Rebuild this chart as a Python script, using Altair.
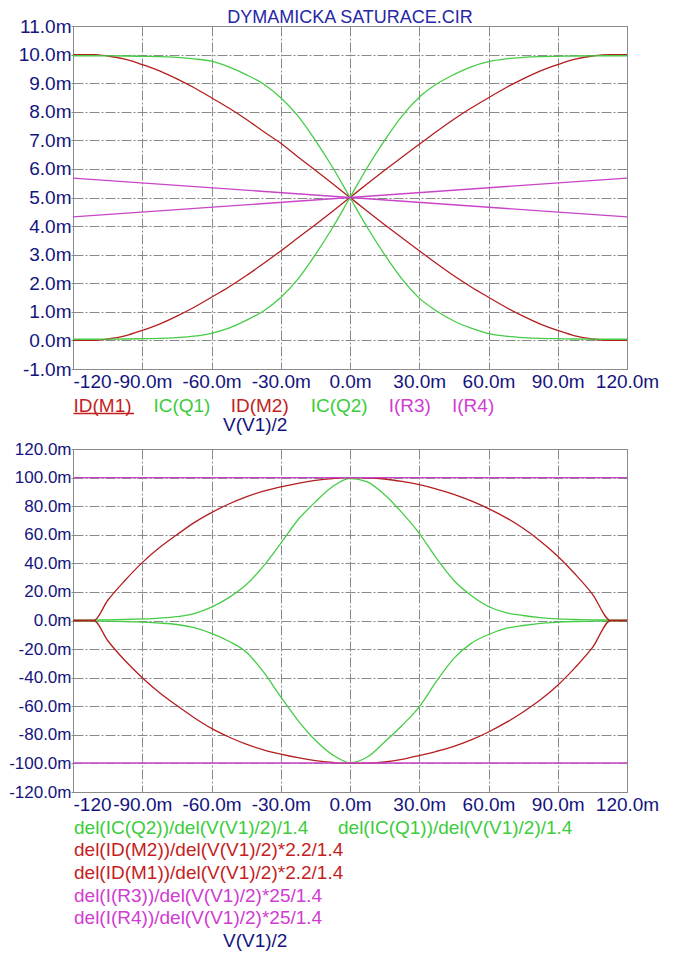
import altair as alt
import pandas as pd

FONT = "Liberation Sans"
NAVY = "#14147e"
TITLE_BLUE = "#2626a6"
RED_LINE = "#b41e1e"
GREEN_LINE = "#46cc46"
MAG_LINE = "#c844c8"
RED_TXT = "#c41e1e"
GREEN_TXT = "#3ccc3c"
MAG_TXT = "#d03cd0"
GRID = "#8a8a8a"

# ---------------- data ----------------
X = [-120, -111, -105, -97.5, -90, -82.5, -75, -67.5, -60, -52.5, -45, -37.5,
     -30, -22.5, -15, -7.5, 0, 7.5, 15, 22.5, 30, 37.5, 45, 52.5, 60, 67.5,
     75, 82.5, 90, 97.5, 105, 113, 120]

# top panel (mA)
ID_M1 = [10.0, 10.0, 9.95, 9.84, 9.65, 9.43, 9.15, 8.84, 8.49, 8.13, 7.74, 7.31,
         6.9, 6.42, 5.95, 5.48, 5.0, 4.52, 4.05, 3.59, 3.14, 2.69, 2.26, 1.87,
         1.51, 1.16, 0.85, 0.57, 0.35, 0.16, 0.05, 0.0, 0.0]
ID_M2 = [0.0, 0.0, 0.05, 0.16, 0.35, 0.57, 0.85, 1.16, 1.51, 1.87, 2.26, 2.69,
         3.13, 3.59, 4.05, 4.52, 5.0, 5.48, 5.95, 6.41, 6.86, 7.31, 7.74, 8.13,
         8.49, 8.84, 9.15, 9.43, 9.65, 9.84, 9.95, 10.0, 10.0]
IC_Q1 = [9.96, 9.96, 9.955, 9.95, 9.94, 9.93, 9.9, 9.85, 9.77, 9.57, 9.3, 8.97,
         8.49, 7.85, 7.0, 6.05, 5.0, 3.95, 3.0, 2.15, 1.48, 1.03, 0.68, 0.43,
         0.24, 0.15, 0.1, 0.07, 0.06, 0.05, 0.045, 0.04, 0.04]
IC_Q2 = [0.04, 0.04, 0.045, 0.05, 0.06, 0.07, 0.1, 0.15, 0.25, 0.43, 0.7, 1.03,
         1.5, 2.15, 3.0, 3.95, 5.0, 6.05, 7.0, 7.85, 8.51, 8.97, 9.3, 9.57,
         9.75, 9.85, 9.9, 9.93, 9.94, 9.95, 9.955, 9.96, 9.96]
X_R = [-120, 120]
I_R3 = [4.32, 5.68]
I_R4 = [5.68, 4.32]

# bottom panel (m)
D_Q2 = [-0.3, -0.4, -0.5, -0.8, -1.2, -1.8, -2.8, -5.0, -9.0, -14.5, -22.0, -36.0,
        -53.4, -70.0, -83.8, -94.0, -99.5, -95.5, -85.0, -73.5, -60.4, -42.5, -26.5, -16.0,
        -9.8, -5.5, -3.5, -2.0, -1.2, -0.7, -0.5, -0.3, -0.3]
D_Q1 = [0.2, 0.3, 0.4, 0.7, 1.1, 1.7, 2.7, 4.8, 9.3, 16.0, 25.0, 38.0,
        54.0, 70.5, 83.0, 93.7, 99.5, 97.0, 88.0, 75.5, 61.0, 43.5, 28.0, 17.5,
        9.8, 5.5, 3.5, 2.0, 1.1, 0.7, 0.4, 0.3, 0.2]
D_M2 = [0.0, 0.0, -14.0, -28.0, -40.0, -50.5, -59.5, -68.0, -75.5, -81.5, -86.5, -90.5,
        -93.5, -96.0, -98.0, -99.3, -100.0, -99.8, -99.0, -97.2, -94.5, -91.5, -88.0, -83.5,
        -78.0, -71.5, -64.0, -55.5, -45.3, -33.0, -19.0, 0.0, 0.0]
D_M1 = [0.0, 0.0, 14.0, 28.0, 40.5, 51.0, 60.0, 68.5, 75.5, 81.5, 86.5, 90.5,
        93.5, 96.0, 98.0, 99.3, 100.0, 99.8, 99.0, 97.3, 95.0, 92.0, 88.3, 83.7,
        78.3, 72.0, 64.5, 55.5, 45.0, 32.5, 18.5, 0.0, 0.0]
D_R3 = [100.0, 100.0]
D_R4 = [-99.7, -99.7]

X_TICKS = [-120, -90, -60, -30, 0, 30, 60, 90, 120]
TOP_Y_TICKS = [-1, 0, 1, 2, 3, 4, 5, 6, 7, 8, 9, 10, 11]
BOT_Y_TICKS = [-120, -100, -80, -60, -40, -20, 0, 20, 40, 60, 80, 100, 120]

TITLE = "DYMAMICKA SATURACE.CIR"
TOP_LEGEND = ["ID(M1)", "IC(Q1)", "ID(M2)", "IC(Q2)", "I(R3)", "I(R4)"]
BOT_LEGEND = [
    "del(IC(Q2))/del(V(V1)/2)/1.4",
    "del(IC(Q1))/del(V(V1)/2)/1.4",
    "del(ID(M2))/del(V(V1)/2)*2.2/1.4",
    "del(ID(M1))/del(V(V1)/2)*2.2/1.4",
    "del(I(R3))/del(V(V1)/2)*25/1.4",
    "del(I(R4))/del(V(V1)/2)*25/1.4",
]
X_TITLE = "V(V1)/2"

W = 554
H = 343

NUM = "(datum.value < 0 ? '-' : '') + format(abs(datum.value), '.1f') + 'm'"


def frame(series):
    rows = []
    for name, (xs, ys) in series:
        for i, (xv, yv) in enumerate(zip(xs, ys)):
            rows.append({"s": name, "x": xv, "y": yv, "i": i})
    return pd.DataFrame(rows)


def x_axis():
    return alt.Axis(
        values=X_TICKS, title=None, grid=True, gridColor=GRID, gridDash=[10, 2, 2, 2],
        gridWidth=1, ticks=False, domain=False, labelFont=FONT, labelFontSize=19,
        labelColor=NAVY, labelPadding=3, labelFlush=False, labelOverlap=False,
        labelBound=False,
        labelExpr="datum.value == -120 ? '-120' : " + NUM,
        labelAlign={"condition": {"test": "datum.value == -120", "value": "left"},
                    "value": "center"},
    )


def y_axis(ticks, size):
    return alt.Axis(
        values=ticks, title=None, grid=True, gridColor=GRID, gridDash=[10, 2, 2, 2],
        gridWidth=1, ticks=True, tickSize=2, tickColor=GRID, domain=False,
        labelFont=FONT, labelFontSize=size, labelColor=NAVY, labelPadding=0,
        labelOverlap=False, labelBound=False, labelExpr=NUM,
    )


def line_layers(series, colors, ydom, yticks, ysize):
    df = frame(series)
    base = alt.Chart(df).encode(
        x=alt.X("x:Q", scale=alt.Scale(domain=[-120, 120], nice=False, zero=False), axis=x_axis()),
        y=alt.Y("y:Q", scale=alt.Scale(domain=ydom, nice=False, zero=False),
                axis=y_axis(yticks, ysize)),
        order="i:Q",
    )
    out = []
    for (name, _), c in zip(series, colors):
        out.append(
            base.transform_filter(alt.datum.s == name).mark_line(
                strokeWidth=1.3, interpolate="monotone", clip=True, color=c)
        )
    return out


def label(text, x, y, color, align="left", size=19):
    return alt.Chart(pd.DataFrame({"t": [text]})).mark_text(
        align=align, baseline="alphabetic", font=FONT, fontSize=size, color=color
    ).encode(text="t:N", x=alt.value(x), y=alt.value(y))


top_series = [
    ("ID(M1)", (X, ID_M1)), ("IC(Q1)", (X, IC_Q1)), ("ID(M2)", (X, ID_M2)),
    ("IC(Q2)", (X, IC_Q2)), ("I(R3)", (X_R, I_R3)), ("I(R4)", (X_R, I_R4)),
]
top_colors = [RED_LINE, GREEN_LINE, RED_LINE, GREEN_LINE, MAG_LINE, MAG_LINE]

bot_series = [
    ("DQ2", (X, D_Q2)), ("DQ1", (X, D_Q1)), ("DM2", (X, D_M2)), ("DM1", (X, D_M1)),
    ("DR3", (X_R, D_R3)), ("DR4", (X_R, D_R4)),
]
bot_colors = [GREEN_LINE, GREEN_LINE, RED_LINE, RED_LINE, MAG_LINE, MAG_LINE]

top_leg_colors = [RED_TXT, GREEN_TXT, RED_TXT, GREEN_TXT, MAG_TXT, MAG_TXT]
top_leg_x = [0.5, 80.4, 157.7, 237.7, 315.7, 379.0]

top_layers = line_layers(top_series, top_colors, [-1, 11], TOP_Y_TICKS, 19)
top_layers.append(label(TITLE, W / 2, -3.4, TITLE_BLUE, align="center", size=18))
for t, c, xp in zip(TOP_LEGEND, top_leg_colors, top_leg_x):
    top_layers.append(label(t, xp, 385.5, c))
top_layers.append(
    alt.Chart(pd.DataFrame({"a": [0]})).mark_rule(color=RED_TXT, strokeWidth=1.3).encode(
        x=alt.value(0.5), x2=alt.value(61), y=alt.value(387.5))
)
top_layers.append(label(X_TITLE, 182.2, 404.5, NAVY, align="center"))
top = alt.layer(*top_layers).properties(width=W, height=H)

bot_leg_colors = [GREEN_TXT, GREEN_TXT, RED_TXT, RED_TXT, MAG_TXT, MAG_TXT]
bot_leg_pos = [(1.0, 384.6), (265.0, 384.6), (1.0, 407.3), (1.0, 430.0),
               (1.0, 452.6), (1.0, 475.3)]
bot_layers = line_layers(bot_series, bot_colors, [-120, 120], BOT_Y_TICKS, 17)
for t, c, (xp, yp) in zip(BOT_LEGEND, bot_leg_colors, bot_leg_pos):
    bot_layers.append(label(t, xp, yp, c))
bot_layers.append(label(X_TITLE, 182.2, 498.0, NAVY, align="center"))
bottom = alt.layer(*bot_layers).properties(width=W, height=H)

chart = alt.vconcat(top, bottom, spacing=80, bounds="flush").properties(
    padding={"left": 0, "top": 0, "right": 4, "bottom": 2},
    background="white",
).configure_view(stroke=GRID, strokeWidth=1)

chart.save("out.html", embed_options={"renderer": "svg", "actions": False})
